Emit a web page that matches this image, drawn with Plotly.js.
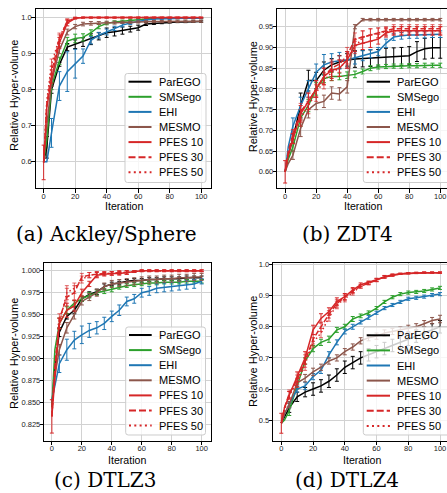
<!DOCTYPE html>
<html><head><meta charset="utf-8">
<script src="https://cdn.plot.ly/plotly-3.0.1.min.js"></script>
<style>html,body{margin:0;padding:0;background:#fff}#chart{width:447px;height:493px}</style>
</head><body><div id="chart"></div>
<script>
// ---------------- data ----------------
const iters = [0,2,5,10,15,20,25,30,35,40,45,50,55,60,65,70,75,80,85,90,95,100];
const methods = ['ParEGO','SMSego','EHI','MESMO','PFES 10','PFES 30','PFES 50'];
const panelTitles = ['(a) Ackley/Sphere','(b) ZDT4','(c) DTLZ3','(d) DTLZ4'];
const xTitle = 'Iteration';
const yTitle = 'Relative Hyper-volume';
const xTicks = [0,20,40,60,80,100];
const yTicksA = [0.6,0.7,0.8,0.9,1.0];
const yTicksB = [0.60,0.65,0.70,0.75,0.80,0.85,0.90,0.95];
const yTicksC = [0.825,0.850,0.875,0.900,0.925,0.950,0.975,1.000];
const yTicksD = [0.5,0.6,0.7,0.8,0.9,1.0];

// (a) Ackley/Sphere
const ackleyParego = [0.60,0.64,0.80,0.87,0.918,0.926,0.932,0.940,0.948,0.958,0.961,0.964,0.968,0.972,0.982,0.984,0.986,0.987,0.988,0.988,0.989,0.989];
const ackleyParegoErr = [NaN,0.03,0.01,0.005,0.01,0.012,0.012,0.015,0.01,0.013,0.012,0.01,0.008,0.007,0.004,0.003,0.003,0.002,0.002,0.002,0.002,0.002];
const ackleySmsego = [0.60,0.66,0.81,0.88,0.935,0.942,0.945,0.958,0.975,0.984,0.988,0.99,0.993,0.996,0.997,0.998,0.998,0.998,0.998,0.998,0.998,0.998];
const ackleySmsegoErr = [NaN,NaN,0.01,0.01,0.01,0.012,0.01,0.008,0.006,0.004,0.003,0.003,0.002,0.002,0.002,0.001,0.001,0.001,0.001,0.001,0.001,0.001];
const ackleyEhi = [0.60,0.60,0.68,0.81,0.85,0.872,0.893,0.937,0.951,0.96,0.97,0.979,0.985,0.99,0.993,0.996,0.997,0.997,0.998,0.998,0.998,0.998];
const ackleyEhiErr = [NaN,NaN,0.04,0.04,0.055,0.04,0.02,0.01,0.008,0.008,0.006,0.005,0.004,0.003,0.002,0.002,0.002,0.002,0.001,0.001,0.001,0.001];
const ackleyMesmo = [0.60,0.70,0.82,0.91,0.96,0.975,0.982,0.984,0.985,0.986,0.986,0.987,0.987,0.988,0.988,0.989,0.989,0.989,0.99,0.99,0.99,0.99];
const ackleyMesmoErr = [NaN,NaN,0.01,0.01,0.008,0.006,0.005,0.005,0.004,0.004,0.004,0.003,0.003,0.003,0.003,0.003,0.003,0.003,0.003,0.003,0.003,0.003];
const ackleyPfes10 = [0.598,0.75,0.83,0.93,0.985,0.998,1,1,1,1,1,1,1,1,1,1,1,1,1,1,1,1];
const ackleyPfes10Err = [0.048,NaN,0.012,0.015,0.008,0.002,0.001,0.001,0.001,0.001,0.001,0.001,0.001,0.001,0.001,0.001,0.001,0.001,0.001,0.001,0.001,0.001];
const ackleyPfes30 = [0.598,0.76,0.85,0.94,0.99,0.999,1,1,1,1,1,1,1,1,1,1,1,1,1,1,1,1];
const ackleyPfes30Err = [NaN,NaN,0.015,0.012,0.006,0.002,0.001,0.001,0.001,0.001,0.001,0.001,0.001,0.001,0.001,0.001,0.001,0.001,0.001,0.001,0.001,0.001];
const ackleyPfes50 = [0.598,0.77,0.87,0.945,0.99,0.999,1,1,1,1,1,1,1,1,1,1,1,1,1,1,1,1];
const ackleyPfes50Err = [NaN,NaN,0.015,0.012,0.006,0.002,0.001,0.001,0.001,0.001,0.001,0.001,0.001,0.001,0.001,0.001,0.001,0.001,0.001,0.001,0.001,0.001];

// (b) ZDT4
const zdtParego = [0.60,0.64,0.68,0.76,0.82,0.82,0.845,0.858,0.865,0.87,0.872,0.873,0.874,0.875,0.876,0.877,0.878,0.88,0.89,0.897,0.899,0.899];
const zdtParegoErr = [NaN,NaN,0.01,0.03,0.025,0.02,0.02,0.015,0.015,0.015,0.02,0.02,0.02,0.02,0.022,0.022,0.022,0.022,0.024,0.025,0.025,0.025];
const zdtSmsego = [0.60,0.63,0.66,0.73,0.76,0.80,0.825,0.83,0.83,0.833,0.835,0.842,0.85,0.853,0.854,0.855,0.855,0.856,0.856,0.857,0.857,0.857];
const zdtSmsegoErr = [NaN,NaN,0.01,0.02,0.015,0.015,0.01,0.01,0.008,0.008,0.008,0.006,0.006,0.005,0.005,0.005,0.005,0.005,0.005,0.005,0.005,0.005];
const zdtEhi = [0.60,0.66,0.71,0.76,0.80,0.84,0.858,0.865,0.868,0.87,0.875,0.88,0.885,0.89,0.91,0.925,0.928,0.93,0.93,0.931,0.932,0.932];
const zdtEhiErr = [NaN,NaN,0.02,0.02,0.02,0.02,0.025,0.02,0.02,0.02,0.015,0.012,0.01,0.01,0.01,0.008,0.008,0.008,0.008,0.008,0.008,0.008];
const zdtMesmo = [0.60,0.62,0.64,0.705,0.75,0.765,0.77,0.79,0.788,0.805,0.95,0.967,0.967,0.967,0.967,0.967,0.967,0.967,0.967,0.967,0.967,0.967];
const zdtMesmoErr = [NaN,NaN,0.01,0.02,0.02,0.015,0.015,0.015,0.015,0.015,0.005,0.003,0.003,0.003,0.003,0.003,0.003,0.003,0.003,0.003,0.003,0.003];
const zdtPfes10 = [0.60,0.64,0.68,0.74,0.77,0.80,0.83,0.845,0.85,0.87,0.905,0.91,0.915,0.92,0.935,0.94,0.94,0.94,0.94,0.94,0.94,0.94];
const zdtPfes10Err = [0.027,NaN,0.012,0.02,0.02,0.02,0.02,0.02,0.02,0.02,0.015,0.015,0.015,0.012,0.01,0.01,0.01,0.01,0.01,0.01,0.01,0.01];
const zdtPfes30 = [0.60,0.65,0.69,0.745,0.77,0.80,0.83,0.85,0.86,0.88,0.92,0.925,0.93,0.935,0.94,0.945,0.945,0.945,0.945,0.945,0.945,0.945];
const zdtPfes30Err = [NaN,NaN,0.012,0.02,0.02,0.02,0.02,0.02,0.02,0.02,0.015,0.015,0.015,0.012,0.01,0.01,0.01,0.01,0.01,0.01,0.01,0.01];
const zdtPfes50 = [0.60,0.64,0.68,0.73,0.76,0.79,0.82,0.84,0.85,0.87,0.90,0.925,0.93,0.935,0.938,0.94,0.94,0.94,0.94,0.94,0.94,0.94];
const zdtPfes50Err = [NaN,NaN,0.012,0.02,0.02,0.02,0.02,0.02,0.02,0.02,0.015,0.015,0.015,0.012,0.01,0.01,0.01,0.01,0.01,0.01,0.01,0.01];

// (c) DTLZ3
const dtlz3Parego = [0.845,0.89,0.93,0.948,0.955,0.968,0.973,0.976,0.982,0.985,0.986,0.988,0.989,0.989,0.99,0.99,0.991,0.991,0.991,0.992,0.992,0.992];
const dtlz3ParegoErr = [NaN,NaN,0.005,0.003,0.004,0.003,0.003,0.003,0.003,0.002,0.002,0.002,0.002,0.002,0.002,0.002,0.002,0.002,0.002,0.002,0.002,0.002];
const dtlz3Smsego = [0.845,0.91,0.94,0.955,0.963,0.968,0.972,0.975,0.977,0.979,0.981,0.983,0.984,0.985,0.986,0.986,0.987,0.987,0.987,0.988,0.988,0.988];
const dtlz3SmsegoErr = [NaN,NaN,0.006,0.004,0.003,0.003,0.003,0.003,0.003,0.003,0.002,0.002,0.002,0.002,0.002,0.002,0.002,0.002,0.002,0.002,0.002,0.002];
const dtlz3Ehi = [0.852,0.87,0.894,0.91,0.921,0.927,0.932,0.935,0.94,0.948,0.955,0.965,0.968,0.975,0.977,0.98,0.981,0.982,0.983,0.984,0.985,0.988];
const dtlz3EhiErr = [NaN,NaN,0.01,0.012,0.01,0.01,0.008,0.007,0.007,0.006,0.006,0.005,0.005,0.005,0.005,0.005,0.005,0.005,0.005,0.005,0.005,0.003];
const dtlz3Mesmo = [0.845,0.88,0.91,0.935,0.95,0.965,0.97,0.975,0.982,0.985,0.986,0.987,0.988,0.989,0.99,0.99,0.991,0.991,0.992,0.992,0.993,0.993];
const dtlz3MesmoErr = [NaN,NaN,0.006,0.006,0.005,0.004,0.004,0.004,0.004,0.004,0.004,0.004,0.004,0.004,0.004,0.004,0.004,0.004,0.004,0.004,0.004,0.004];
const dtlz3Pfes10 = [0.834,0.88,0.94,0.955,0.96,0.975,0.985,0.995,0.996,0.997,0.997,0.998,0.999,1,1,1,1,1,1,1,1,1];
const dtlz3Pfes10Err = [0.019,NaN,0.006,0.008,0.006,0.004,0.003,0.003,0.002,0.002,0.002,0.002,0.001,0.001,0.001,0.001,0.001,0.001,0.001,0.001,0.001,0.001];
const dtlz3Pfes30 = [0.834,0.89,0.945,0.97,0.975,0.993,0.995,0.996,0.997,0.997,0.998,0.998,0.999,1,1,1,1,1,1,1,1,1];
const dtlz3Pfes30Err = [NaN,NaN,0.006,0.01,0.008,0.004,0.003,0.003,0.002,0.002,0.002,0.002,0.001,0.001,0.001,0.001,0.001,0.001,0.001,0.001,0.001,0.001];
const dtlz3Pfes50 = [0.834,0.89,0.94,0.975,0.98,0.99,0.995,0.996,0.997,0.997,0.998,0.998,0.999,1,1,1,1,1,1,1,1,1];
const dtlz3Pfes50Err = [NaN,NaN,0.006,0.008,0.006,0.004,0.003,0.003,0.002,0.002,0.002,0.002,0.001,0.001,0.001,0.001,0.001,0.001,0.001,0.001,0.001,0.001];

// (d) DTLZ4
const dtlz4Parego = [0.49,0.51,0.54,0.575,0.59,0.60,0.61,0.625,0.645,0.67,0.685,0.70,0.71,0.72,0.73,0.74,0.75,0.76,0.77,0.78,0.79,0.80];
const dtlz4ParegoErr = [NaN,NaN,0.015,0.015,0.015,0.02,0.02,0.02,0.02,0.02,0.02,0.02,0.02,0.02,0.02,0.02,0.02,0.02,0.02,0.02,0.02,0.02];
const dtlz4Smsego = [0.49,0.50,0.53,0.61,0.69,0.73,0.75,0.76,0.79,0.80,0.825,0.835,0.845,0.86,0.88,0.895,0.905,0.91,0.912,0.915,0.92,0.925];
const dtlz4SmsegoErr = [NaN,NaN,0.015,0.01,0.01,0.01,0.01,0.01,0.008,0.008,0.008,0.006,0.006,0.005,0.005,0.005,0.005,0.005,0.005,0.005,0.005,0.005];
const dtlz4Ehi = [0.49,0.52,0.55,0.60,0.61,0.64,0.66,0.71,0.75,0.785,0.80,0.815,0.83,0.845,0.86,0.87,0.88,0.89,0.893,0.897,0.902,0.905];
const dtlz4EhiErr = [NaN,NaN,0.01,0.01,0.012,0.01,0.01,0.01,0.008,0.008,0.008,0.006,0.006,0.005,0.005,0.005,0.005,0.005,0.005,0.005,0.005,0.005];
const dtlz4Mesmo = [0.49,0.52,0.55,0.62,0.635,0.655,0.67,0.69,0.70,0.72,0.735,0.755,0.765,0.77,0.78,0.785,0.79,0.795,0.80,0.81,0.82,0.825];
const dtlz4MesmoErr = [NaN,NaN,0.01,0.012,0.012,0.012,0.01,0.01,0.01,0.01,0.01,0.01,0.01,0.01,0.01,0.01,0.01,0.01,0.01,0.01,0.01,0.012];
const dtlz4Pfes10 = [0.49,0.54,0.58,0.64,0.70,0.79,0.827,0.849,0.881,0.897,0.918,0.935,0.942,0.951,0.961,0.967,0.97,0.972,0.973,0.974,0.974,0.974];
const dtlz4Pfes10Err = [0.032,NaN,0.012,0.015,0.02,0.015,0.015,0.012,0.012,0.01,0.008,0.006,0.005,0.005,0.004,0.003,0.002,0.002,0.002,0.002,0.002,0.002];
const dtlz4Pfes30 = [0.49,0.54,0.585,0.63,0.69,0.76,0.80,0.84,0.875,0.895,0.915,0.93,0.94,0.95,0.96,0.965,0.97,0.972,0.973,0.974,0.974,0.974];
const dtlz4Pfes30Err = [NaN,NaN,0.012,0.015,0.02,0.015,0.015,0.012,0.012,0.01,0.008,0.006,0.005,0.005,0.004,0.003,0.002,0.002,0.002,0.002,0.002,0.002];
const dtlz4Pfes50 = [0.49,0.53,0.58,0.62,0.68,0.75,0.78,0.83,0.87,0.89,0.91,0.93,0.94,0.95,0.96,0.965,0.97,0.972,0.973,0.974,0.974,0.974];
const dtlz4Pfes50Err = [NaN,NaN,0.012,0.015,0.02,0.015,0.015,0.012,0.012,0.01,0.008,0.006,0.005,0.005,0.004,0.003,0.002,0.002,0.002,0.002,0.002,0.002];

// ---------------- styling / layout ----------------
const W = 447, H = 493;
const px = v => v / W, py = v => 1 - v / H;
const colors = ['#000000','#2ca02c','#1f77b4','#8c564b','#d62728','#d62728','#d62728'];
const errColors = ['#000000','#2ca02c','#1f77b4','#8c564b','#d62728','rgba(214,39,40,0.7)','rgba(214,39,40,0.7)'];
const dashes = ['solid','solid','solid','solid','solid','5.5px,2.4px','1.5px,2.5px'];
const legendDashes = ['solid','solid','solid','solid','solid','7px,3px','2px,3.3px'];
const sans = 'Liberation Sans, Arial, sans-serif';

const panels = [
  {series:[ackleyParego,ackleySmsego,ackleyEhi,ackleyMesmo,ackleyPfes10,ackleyPfes30,ackleyPfes50],
   errs:[ackleyParegoErr,ackleySmsegoErr,ackleyEhiErr,ackleyMesmoErr,ackleyPfes10Err,ackleyPfes30Err,ackleyPfes50Err],
   xdom:[35.7,210.7], ydom:[9.3,188], xrange:[-5.05,106.05], yrange:[0.527,1.023], yticks:yTicksA, yfmt:'.1f', mirrorY:true,
   leg:{box:[125,73.5,206,182.5], y0:81.7, lineX:[128.5,151.5], textX:158}, ytitle:[14,96], xtitle:[123.5,206], cap:[106.3,233.5]},
  {series:[zdtParego,zdtSmsego,zdtEhi,zdtMesmo,zdtPfes10,zdtPfes30,zdtPfes50],
   errs:[zdtParegoErr,zdtSmsegoErr,zdtEhiErr,zdtMesmoErr,zdtPfes10Err,zdtPfes30Err,zdtPfes50Err],
   xdom:[277.3,447], ydom:[9.3,188], xrange:[-5.05,104.35], yrange:[0.561,0.992], yticks:yTicksB, yfmt:'.2f', mirrorY:false,
   leg:{box:[363.3,73.5,452,182.5], y0:81.7, lineX:[366.7,390], textX:396}, ytitle:[253.3,97], xtitle:[363.4,206], cap:[347.8,233.5]},
  {series:[dtlz3Parego,dtlz3Smsego,dtlz3Ehi,dtlz3Mesmo,dtlz3Pfes10,dtlz3Pfes30,dtlz3Pfes50],
   errs:[dtlz3ParegoErr,dtlz3SmsegoErr,dtlz3EhiErr,dtlz3MesmoErr,dtlz3Pfes10Err,dtlz3Pfes30Err,dtlz3Pfes50Err],
   xdom:[44.3,210.7], ydom:[263.3,440.7], xrange:[-5.05,106.05], yrange:[0.8063,1.0085], yticks:yTicksC, yfmt:'.3f', mirrorY:true,
   leg:{box:[125.7,327,205.5,435], y0:335, lineX:[129,151.7], textX:158}, ytitle:[14,354], xtitle:[127.5,459.5], cap:[105,479.5]},
  {series:[dtlz4Parego,dtlz4Smsego,dtlz4Ehi,dtlz4Mesmo,dtlz4Pfes10,dtlz4Pfes30,dtlz4Pfes50],
   errs:[dtlz4ParegoErr,dtlz4SmsegoErr,dtlz4EhiErr,dtlz4MesmoErr,dtlz4Pfes10Err,dtlz4Pfes30Err,dtlz4Pfes50Err],
   xdom:[273.3,447], ydom:[263.3,440.7], xrange:[-5.05,104.4], yrange:[0.434,1.004], yticks:yTicksD, yfmt:'.1f', mirrorY:false,
   leg:{box:[363.3,327,452,435], y0:335.3, lineX:[366.7,390], textX:396}, ytitle:[253,352], xtitle:[361.5,459.5], cap:[347.3,479.5]}
];

const traces = [];
const layout = {
  width: W, height: H, margin:{l:0,r:0,t:0,b:0}, showlegend:false,
  paper_bgcolor:'#fff', plot_bgcolor:'#fff', shapes:[], annotations:[]
};
const stepY = 15.1;

function roundRect(x0,y0,x1,y1,r){
  const X = v => px(v).toFixed(5), Y = v => py(v).toFixed(5);
  return `M${X(x0+r)},${Y(y0)} L${X(x1-r)},${Y(y0)} Q${X(x1)},${Y(y0)} ${X(x1)},${Y(y0+r)} L${X(x1)},${Y(y1-r)} Q${X(x1)},${Y(y1)} ${X(x1-r)},${Y(y1)} L${X(x0+r)},${Y(y1)} Q${X(x0)},${Y(y1)} ${X(x0)},${Y(y1-r)} L${X(x0)},${Y(y0+r)} Q${X(x0)},${Y(y0)} ${X(x0+r)},${Y(y0)} Z`;
}

panels.forEach((p, pi) => {
  const n = pi + 1;
  const xa = n === 1 ? 'x' : 'x' + n, ya = n === 1 ? 'y' : 'y' + n;
  const xaKey = n === 1 ? 'xaxis' : 'xaxis' + n, yaKey = n === 1 ? 'yaxis' : 'yaxis' + n;
  p.series.forEach((vals, si) => {
    traces.push({
      type:'scatter', mode:'lines', x: iters, y: vals, xaxis: xa, yaxis: ya, name: methods[si],
      showlegend:false, hoverinfo:'skip',
      line:{color: colors[si], width:1.5, dash: dashes[si]},
      error_y:{type:'data', array: p.errs[si], visible:true, color: errColors[si], thickness:1, width:2}
    });
  });
  const common = {ticks:'outside', ticklen:3.5, tickwidth:1, tickcolor:'#000', showline:true, linecolor:'#000', linewidth:1,
    showgrid:true, gridcolor:'#d2d2d2', gridwidth:1, zeroline:false, fixedrange:true, ticklabelstandoff:-2,
    tickfont:{family:sans, size:7.5, color:'#222'}};
  layout[xaKey] = Object.assign({}, common, {domain:[px(p.xdom[0]), px(p.xdom[1])], range:p.xrange, anchor: ya,
    tickmode:'array', tickvals:xTicks, ticktext:xTicks.map(String), mirror:true, ticklabelstandoff:-3});
  layout[yaKey] = Object.assign({}, common, {domain:[py(p.ydom[1]), py(p.ydom[0])], range:p.yrange, anchor: xa,
    tickmode:'array', tickvals:p.yticks, tickformat:p.yfmt, mirror:p.mirrorY});

  // legend box (matplotlib style)
  const b = p.leg.box;
  layout.shapes.push({type:'path', xref:'paper', yref:'paper', layer:'above', path: roundRect(b[0],b[1],b[2],b[3],2.5),
    fillcolor:'rgba(255,255,255,0.8)', line:{color:'#cccccc', width:1}});
  methods.forEach((m, si) => {
    const yy = p.leg.y0 + si * stepY;
    layout.shapes.push({type:'line', xref:'paper', yref:'paper', layer:'above',
      x0: px(p.leg.lineX[0]), x1: px(p.leg.lineX[1]), y0: py(yy), y1: py(yy),
      line:{color: colors[si], width:2, dash: legendDashes[si]}});
    layout.annotations.push({xref:'paper', yref:'paper', x: px(p.leg.textX), y: py(yy), xanchor:'left', yanchor:'middle',
      text: m, showarrow:false, borderpad:0, font:{family:sans, size:11, color:'#000'}});
  });
  // axis titles
  layout.annotations.push({xref:'paper', yref:'paper', x: px(p.ytitle[0]), y: py(p.ytitle[1]), xanchor:'center', yanchor:'middle',
    text: yTitle, textangle:-90, showarrow:false, borderpad:0, font:{family:sans, size:11, color:'#000'}});
  layout.annotations.push({xref:'paper', yref:'paper', x: px(p.xtitle[0]), y: py(p.xtitle[1]), xanchor:'center', yanchor:'middle',
    text: xTitle, showarrow:false, borderpad:0, font:{family:sans, size:10.6, color:'#000'}});
  // caption
  layout.annotations.push({xref:'paper', yref:'paper', x: px(p.cap[0]), y: py(p.cap[1]), xanchor:'center', yanchor:'middle',
    text: panelTitles[pi], showarrow:false, borderpad:0, font:{family:'DejaVu Serif, serif', size:20, color:'#000'}});
});

Plotly.newPlot('chart', traces, layout, {displayModeBar:false, staticPlot:true});
</script>
</body></html>
